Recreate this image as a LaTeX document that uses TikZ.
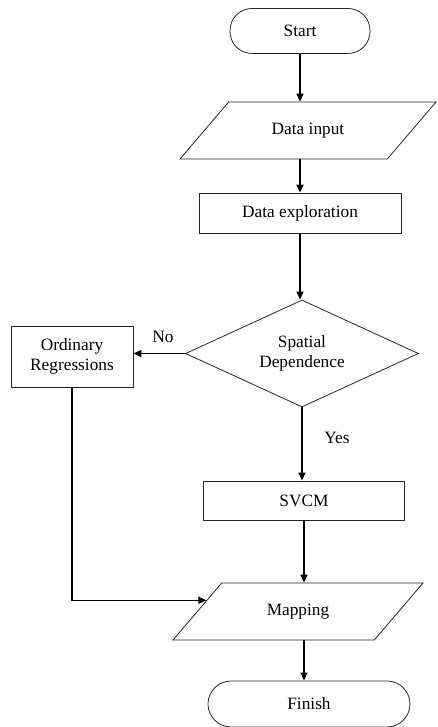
\documentclass[tikz,border=0pt]{standalone}
\usepackage{fontspec}
\setmainfont{Liberation Serif}
\usetikzlibrary{shapes.geometric,arrows.meta,calc}
\begin{document}
\begin{tikzpicture}[x=1pt,y=-1pt,
  font=\fontsize{17.3}{19.5}\selectfont,
  shapebox/.style={draw=black!85, line width=0.8pt, inner sep=2pt, align=center},
  term/.style={shapebox, rectangle, rounded corners=22pt, minimum width=140pt, minimum height=45pt},
  procbox/.style={shapebox, rectangle, minimum height=40pt},
  iobox/.style={shapebox, trapezium, trapezium left angle=49.5, trapezium right angle=130.5, trapezium stretches body, text height=12pt, text depth=4pt, inner ysep=20.5pt},
  decide/.style={shapebox, diamond, aspect=2.18, minimum width=233pt, minimum height=107pt},
  flow/.style={line width=1.4pt, -{Triangle[length=8pt,width=7pt]}},
  lbl/.style={inner sep=0pt}
]
\useasboundingbox (0,0) rectangle (438,727);
\node[term] (start) at (300,31) {Start};
\node[iobox, minimum width=256pt] (datain) at (308,130.5) {Data input};
\node[procbox, minimum width=202pt] (explore) at (300,213) {Data exploration};
\node[decide] (dec) at (302,353.5) {Spatial\\Dependence};
\node[procbox, minimum width=122pt, minimum height=61pt] (ordinary) at (72,356.5) {Ordinary\\Regressions};
\node[procbox, minimum width=201pt, minimum height=39pt] (svcm) at (304,500.5) {SVCM};
\node[iobox, minimum width=250pt] (mapping) at (298,611.5) {Mapping};
\node[term, minimum width=202pt, minimum height=46pt, rounded corners=23pt] (finish) at (309,704) {Finish};
\node[lbl] (no) at (163,337) {No};
\node[lbl] (yes) at (337,438) {Yes};
\draw[flow] (start.south) -- (start.south |- datain.north);
\draw[flow] (explore.north |- datain.south) -- (explore.north);
\draw[flow] (explore.south) -- (explore.south |- dec.north);
\draw[flow] (dec.west) -- (dec.west -| ordinary.east);
\draw[flow] (dec.south) -- (dec.south |- svcm.north);
\draw[flow] (ordinary.south) |- (mapping.173);
\draw[flow] (svcm.south) -- (svcm.south |- mapping.north);
\draw[flow] (svcm.south |- mapping.south) -- (svcm.south |- finish.north);
\end{tikzpicture}
\end{document}
